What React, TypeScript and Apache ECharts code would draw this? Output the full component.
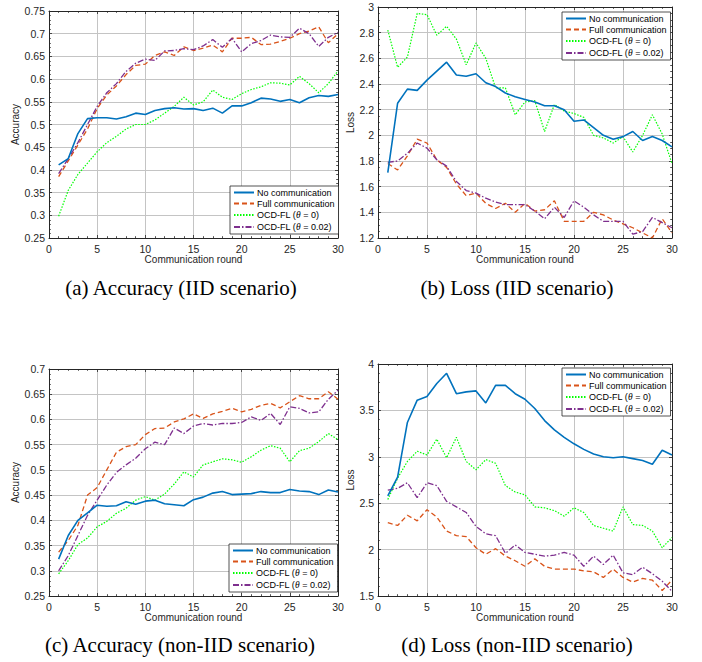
import React, { useEffect, useRef } from "react";
import * as echarts from "echarts";

const rounds = [1,2,3,4,5,6,7,8,9,10,11,12,13,14,15,16,17,18,19,20,21,22,23,24,25,26,27,28,29,30];
const seriesNames = ["No communication", "Full communication", "OCD-FL (θ = 0)", "OCD-FL (θ = 0.02)"];

// (a) Accuracy, IID
const accIidNo = [0.411,0.425,0.48,0.513,0.515,0.515,0.512,0.517,0.525,0.522,0.531,0.535,0.537,0.534,0.535,0.531,0.536,0.525,0.541,0.541,0.548,0.558,0.556,0.551,0.555,0.548,0.559,0.564,0.562,0.566];
const accIidFull = [0.385,0.42,0.455,0.49,0.535,0.565,0.585,0.61,0.63,0.633,0.652,0.66,0.652,0.671,0.663,0.668,0.675,0.66,0.69,0.69,0.692,0.676,0.677,0.683,0.69,0.7,0.706,0.715,0.68,0.70];
const accIidT0 = [0.298,0.355,0.39,0.415,0.44,0.46,0.474,0.49,0.50,0.50,0.51,0.525,0.54,0.56,0.543,0.55,0.576,0.56,0.555,0.568,0.577,0.583,0.592,0.591,0.587,0.606,0.59,0.57,0.59,0.618];
const accIidT002 = [0.392,0.425,0.46,0.50,0.54,0.57,0.59,0.617,0.635,0.644,0.641,0.662,0.663,0.667,0.665,0.673,0.687,0.67,0.69,0.66,0.678,0.685,0.697,0.693,0.692,0.712,0.70,0.672,0.692,0.703];

// (b) Loss, IID
const lossIidNo = [1.71,2.25,2.36,2.35,2.43,2.50,2.57,2.47,2.46,2.48,2.41,2.38,2.33,2.30,2.28,2.26,2.23,2.23,2.20,2.11,2.12,2.06,2.00,1.97,1.99,2.03,1.96,1.99,1.96,1.91];
const lossIidFull = [1.78,1.73,1.84,1.97,1.94,1.81,1.75,1.62,1.53,1.55,1.47,1.43,1.47,1.40,1.47,1.41,1.42,1.49,1.33,1.33,1.33,1.40,1.38,1.34,1.31,1.28,1.24,1.20,1.35,1.24];
const lossIidT0 = [2.82,2.53,2.61,2.95,2.94,2.78,2.85,2.75,2.55,2.72,2.60,2.37,2.37,2.16,2.26,2.27,2.03,2.24,2.19,2.17,2.14,2.00,1.98,1.94,1.99,1.87,2.00,2.16,2.01,1.78];
const lossIidT002 = [1.79,1.80,1.86,1.94,1.90,1.81,1.76,1.64,1.57,1.55,1.51,1.48,1.46,1.46,1.46,1.41,1.35,1.44,1.36,1.49,1.44,1.38,1.33,1.33,1.33,1.23,1.25,1.36,1.32,1.28];

// (c) Accuracy, non-IID
const accNonNo = [0.323,0.37,0.40,0.415,0.43,0.428,0.429,0.437,0.432,0.438,0.44,0.433,0.431,0.429,0.441,0.446,0.454,0.457,0.451,0.452,0.453,0.457,0.455,0.455,0.461,0.458,0.457,0.451,0.46,0.456];
const accNonFull = [0.337,0.36,0.39,0.45,0.465,0.50,0.535,0.546,0.55,0.57,0.582,0.583,0.595,0.601,0.611,0.602,0.611,0.616,0.622,0.615,0.62,0.628,0.632,0.623,0.635,0.647,0.641,0.641,0.655,0.64];
const accNonT0 = [0.294,0.32,0.352,0.365,0.387,0.398,0.414,0.424,0.44,0.447,0.44,0.452,0.472,0.496,0.486,0.51,0.516,0.522,0.52,0.515,0.526,0.539,0.548,0.543,0.516,0.538,0.543,0.556,0.572,0.56];
const accNonT002 = [0.30,0.33,0.37,0.41,0.44,0.47,0.495,0.51,0.523,0.542,0.555,0.55,0.583,0.572,0.587,0.592,0.589,0.592,0.592,0.594,0.605,0.598,0.612,0.59,0.625,0.622,0.613,0.615,0.64,0.658];

// (d) Loss, non-IID
const lossNonNo = [2.58,2.78,3.37,3.61,3.65,3.79,3.90,3.68,3.70,3.71,3.58,3.77,3.77,3.68,3.62,3.52,3.39,3.29,3.21,3.14,3.08,3.03,3.00,2.99,3.00,2.98,2.96,2.92,3.07,3.02];
const lossNonFull = [2.29,2.26,2.37,2.31,2.43,2.35,2.20,2.15,2.14,2.02,1.95,2.01,1.93,1.88,1.82,1.90,1.82,1.79,1.79,1.79,1.77,1.76,1.70,1.79,1.70,1.65,1.69,1.67,1.56,1.67];
const lossNonT0 = [2.54,2.77,2.95,3.06,3.02,3.19,2.99,3.21,2.95,2.86,2.97,2.93,2.69,2.62,2.59,2.46,2.45,2.42,2.36,2.45,2.40,2.26,2.23,2.20,2.46,2.27,2.26,2.20,2.02,2.13];
const lossNonT002 = [2.64,2.66,2.72,2.56,2.72,2.69,2.52,2.46,2.40,2.25,2.17,2.15,1.96,2.05,1.97,1.95,1.93,1.94,1.97,1.94,1.82,1.93,1.84,1.94,1.75,1.73,1.81,1.74,1.66,1.55];

const captions = ["(a) Accuracy (IID scenario)", "(b) Loss (IID scenario)", "(c) Accuracy (non-IID scenario)", "(d) Loss (non-IID scenario)"];
const yNames = ["Accuracy", "Loss", "Accuracy", "Loss"];
const xName = "Communication round";

const panels = [
  { data: [accIidNo, accIidFull, accIidT0, accIidT002], min: 0.25, max: 0.75, interval: 0.05, minorSplit: 5,
    grid: { left: 49, top: 11, width: 289, height: 227 }, nameGap: 26, legend: { left: 230, top: 186 }, caption: { x: 181, y: 288 } },
  { data: [lossIidNo, lossIidFull, lossIidT0, lossIidT002], min: 1.2, max: 3, interval: 0.2, minorSplit: 4,
    grid: { left: 378, top: 7, width: 294, height: 231 }, nameGap: 21, legend: { left: 562, top: 12 }, caption: { x: 517, y: 288 } },
  { data: [accNonNo, accNonFull, accNonT0, accNonT002], min: 0.25, max: 0.7, interval: 0.05, minorSplit: 5,
    grid: { left: 49, top: 369, width: 289, height: 227 }, nameGap: 26, legend: { left: 229, top: 544 }, caption: { x: 180, y: 645 } },
  { data: [lossNonNo, lossNonFull, lossNonT0, lossNonT002], min: 1.5, max: 4, interval: 0.5, minorSplit: 5,
    grid: { left: 378, top: 364, width: 294, height: 232 }, nameGap: 21, legend: { left: 562, top: 368 }, caption: { x: 517, y: 645 } },
];

const colors = ["#0072BD", "#D95319", "#00FF00", "#7E2F8E"];
const widths = [1.6, 1.3, 1.2, 1.3];
const dashes: any[] = ["solid", [5, 3], [1.5, 1.5], [6, 2, 1.5, 2]];

const axisColor = "#262626";
const gridColor = "#c4c4c4";
const sans = "Liberation Sans";

function buildOption() {
  const grids: any[] = [];
  const xAxes: any[] = [];
  const yAxes: any[] = [];
  const series: any[] = [];
  const legends: any[] = [];
  const graphics: any[] = [];

  panels.forEach((p, i) => {
    grids.push({ ...p.grid, show: false, containLabel: false });
    const tickCommon = { show: true, inside: true, length: 3, lineStyle: { color: axisColor, width: 0.8 } };
    const minorCommon = { show: true, splitNumber: 0, length: 1.8, lineStyle: { color: axisColor, width: 0.8 } };
    xAxes.push({
      type: "value", gridIndex: i, min: 0, max: 30, interval: 5, position: "bottom",
      axisLine: { show: true, onZero: false, lineStyle: { color: axisColor, width: 1 } },
      axisTick: tickCommon,
      minorTick: { ...minorCommon, splitNumber: 5 },
      splitLine: { show: true, lineStyle: { color: gridColor, width: 1 } },
      axisLabel: { color: axisColor, fontSize: 10.5, fontFamily: sans, margin: 5 },
      name: xName, nameLocation: "middle", nameGap: 16,
      nameTextStyle: { color: axisColor, fontSize: 10, fontFamily: sans },
    });
    xAxes.push({
      type: "value", gridIndex: i, min: 0, max: 30, interval: 5, position: "top",
      axisLine: { show: true, onZero: false, lineStyle: { color: axisColor, width: 1 } },
      axisTick: tickCommon,
      minorTick: { ...minorCommon, splitNumber: 5 },
      splitLine: { show: false },
      axisLabel: { show: false },
    });
    yAxes.push({
      type: "value", gridIndex: i, min: p.min, max: p.max, interval: p.interval, position: "left",
      axisLine: { show: true, onZero: false, lineStyle: { color: axisColor, width: 1 } },
      axisTick: tickCommon,
      minorTick: { ...minorCommon, splitNumber: p.minorSplit },
      splitLine: { show: true, lineStyle: { color: gridColor, width: 1 } },
      axisLabel: { color: axisColor, fontSize: 10.5, fontFamily: sans, margin: 4 },
      name: yNames[i], nameLocation: "middle", nameGap: p.nameGap,
      nameTextStyle: { color: axisColor, fontSize: 10, fontFamily: sans },
    });
    yAxes.push({
      type: "value", gridIndex: i, min: p.min, max: p.max, interval: p.interval, position: "right",
      axisLine: { show: true, onZero: false, lineStyle: { color: axisColor, width: 1 } },
      axisTick: tickCommon,
      minorTick: { ...minorCommon, splitNumber: p.minorSplit },
      splitLine: { show: false },
      axisLabel: { show: false },
    });

    p.data.forEach((vals, k) => {
      series.push({
        type: "line",
        name: seriesNames[k],
        xAxisIndex: 2 * i,
        yAxisIndex: 2 * i,
        symbol: "none",
        showSymbol: false,
        silent: true,
        z: k === 0 ? 5 : 4,
        data: rounds.map((r, j) => [r, vals[j]]),
        lineStyle: { color: colors[k], width: widths[k], type: dashes[k] },
        itemStyle: { color: colors[k], opacity: 0 },
      });
    });

    legends.push({
      data: seriesNames,
      orient: "vertical",
      left: p.legend.left,
      top: p.legend.top,
      itemWidth: 20,
      itemHeight: 9,
      itemGap: 2,
      padding: [2, 4, 2, 3],
      backgroundColor: "#ffffff",
      borderColor: axisColor,
      borderWidth: 0.8,
      borderRadius: 0,
      selectedMode: false,
      itemStyle: { opacity: 0 },
      textStyle: {
        color: "#000", fontSize: 9, fontFamily: sans, padding: [0, 0, 0, -2],
        rich: { i: { fontStyle: "italic", fontSize: 9.5, fontFamily: "Liberation Serif", color: "#000" } },
      },
      formatter: (name: string) => name.replace("θ", "{i|θ}"),
    });

    graphics.push({
      type: "text",
      x: p.caption.x,
      y: p.caption.y,
      style: {
        text: captions[i],
        fill: "#000",
        fontSize: 21,
        fontFamily: "Liberation Serif",
        align: "center",
        verticalAlign: "middle",
      },
    });
  });

  return {
    animation: false,
    backgroundColor: "#ffffff",
    grid: grids,
    xAxis: xAxes,
    yAxis: yAxes,
    series,
    legend: legends,
    graphic: graphics,
  };
}

export default function App() {
  const ref = useRef<HTMLDivElement>(null);
  useEffect(() => {
    if (!ref.current) return;
    const chart = echarts.init(ref.current, undefined, { renderer: "svg" });
    chart.setOption(buildOption() as any);
    return () => chart.dispose();
  }, []);
  return (
    <div
      ref={ref}
      style={{ position: "absolute", left: 0, top: 0, width: 702, height: 662, background: "#fff" }}
    />
  );
}
